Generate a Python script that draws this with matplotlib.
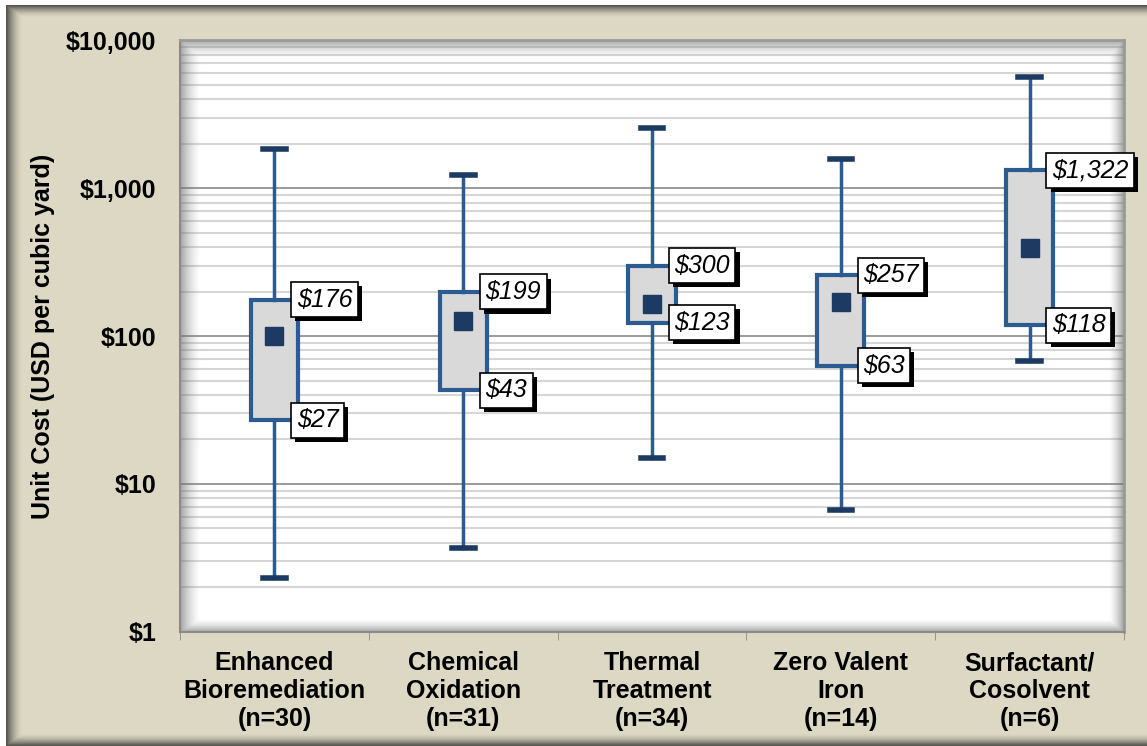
import matplotlib
matplotlib.use("Agg")
import matplotlib.pyplot as plt
import matplotlib.patheffects as pe
from matplotlib.ticker import FixedLocator, LogLocator, NullFormatter
import numpy as np

plt.rcParams['font.family'] = ['Liberation Sans', 'DejaVu Sans']

# values (USD per cubic yard)
categories = ["Enhanced\nBioremediation\n(n=30)", "Chemical\nOxidation\n(n=31)",
              "Thermal\nTreatment\n(n=34)", "Zero Valent\nIron\n(n=14)",
              "Surfactant/\nCosolvent\n(n=6)"]
lowValues = [2.3, 3.7, 15, 6.7, 68]
q1Values = [27, 43, 123, 63, 118]
meanValues = [100, 126, 164, 170, 393]
q3Values = [176, 199, 300, 257, 1322]
highValues = [1835, 1224, 2544, 1570, 5620]
yTicks = [1, 10, 100, 1000, 10000]
yTickLabels = ["$1", "$10", "$100", "$1,000", "$10,000"]

beige = np.array([221, 216, 195]) / 255
boxBlue = "#2c5b91"
navy = "#1d3a62"

W, H = 1147, 746
fig = plt.figure(figsize=(W / 100, H / 100), dpi=100, facecolor="white")

# background panel with shaded left, top and bottom edges
bg = fig.add_axes([0, 0, 1, 1], zorder=-5)
bg.axis("off")
px = np.arange(W)[None, :]
py = np.arange(H)[:, None]
dark = np.array([0.33, 0.33, 0.30])
shade = np.maximum.reduce([
    np.clip(1 - (px - 6) / 16, 0, 1) ** 1.6 * np.ones_like(py),
    np.clip(1 - (py - 5) / 12, 0, 1) ** 1.6 * np.ones_like(px),
    np.clip(1 - (H - 1 - py) / 12, 0, 1) ** 1.6 * np.ones_like(px),
])
panel = beige[None, None, :] * (1 - shade[..., None]) + dark[None, None, :] * shade[..., None]
outside = (px < 6) | (py < 5)
panel[np.broadcast_to(outside, (H, W))] = 1.0
bg.imshow(panel, extent=[0, 1, 0, 1], aspect="auto", interpolation="nearest")
bg.set_xlim(0, 1)
bg.set_ylim(0, 1)

ax = fig.add_axes([0.157, 0.153, 0.823, 0.793])
ax.set_facecolor("white")

stats = []
for i in range(len(categories)):
    stats.append(dict(whislo=lowValues[i], q1=q1Values[i], med=meanValues[i],
                      mean=meanValues[i], q3=q3Values[i], whishi=highValues[i], fliers=[]))

positions = np.arange(len(categories))
ax.bxp(stats, positions=positions, widths=0.25, capwidths=0.12, patch_artist=True,
       showmeans=True, showfliers=False,
       boxprops=dict(facecolor="#d9d9d9", edgecolor=boxBlue, linewidth=3),
       whiskerprops=dict(color=boxBlue, linewidth=2.5),
       capprops=dict(color=navy, linewidth=4),
       medianprops=dict(linewidth=0),
       meanprops=dict(marker="s", markerfacecolor=navy, markeredgecolor=navy, markersize=13),
       zorder=3)

shadow = [pe.SimplePatchShadow(offset=(3, -3), shadow_rgbFace="black", alpha=1), pe.Normal()]
for i, x in enumerate(positions):
    for v in (q3Values[i], q1Values[i]):
        t = ax.text(x + 0.118, v, f"${v:,}", ha="left", va="center", fontsize=18,
                    style="italic", zorder=5,
                    bbox=dict(boxstyle="square,pad=0.22", facecolor="white",
                              edgecolor="black", linewidth=1.2))
        t.get_bbox_patch().set_path_effects(shadow)

ax.set_yscale("log")
ax.set_ylim(1, 10000)
ax.set_xlim(-0.5, len(categories) - 0.5)
ax.yaxis.set_major_locator(FixedLocator(yTicks))
ax.set_yticklabels(yTickLabels, fontsize=18, fontweight="bold")
ax.yaxis.set_minor_locator(LogLocator(base=10, subs=np.arange(2, 10)))
ax.yaxis.set_minor_formatter(NullFormatter())
ax.grid(True, which="major", axis="y", color="#8a8a8a", linewidth=1.2, zorder=0)
ax.grid(True, which="minor", axis="y", color="#d6d6d6", linewidth=1.5, zorder=0)
ax.set_axisbelow(True)

ax.set_xticks(positions)
ax.set_xticklabels(categories, fontsize=18, fontweight="bold", linespacing=1.2)
ax.set_xticks(np.arange(-0.5, len(categories)), minor=True)
ax.tick_params(axis="x", which="major", length=0, pad=14)
ax.tick_params(axis="x", which="minor", length=6, color="#8a8a8a")
ax.tick_params(axis="y", which="both", length=0, pad=17)
ax.set_ylabel("Unit Cost (USD per cubic yard)", fontsize=18, fontweight="bold")
ax.yaxis.set_label_coords(-0.133, 0.5)

for side in ("top", "right"):
    ax.spines[side].set_color("#9a9a9a")
    ax.spines[side].set_linewidth(2)
for side in ("left", "bottom"):
    ax.spines[side].set_color("#8a8a8a")
    ax.spines[side].set_linewidth(1.5)

# soft inner shadow round the plot area
n = 400
u = np.linspace(0, 1, n)
xx, yy = np.meshgrid(u, u)
w = 0.03
d = np.minimum.reduce([xx / (w * 0.7), (1 - xx) / (w * 0.5), yy / (w * 0.7), (1 - yy) / w])
alpha = np.clip(1 - d, 0, 1) ** 1.5 * 0.6
img = np.zeros((n, n, 4))
img[..., :3] = 0.45
img[..., 3] = alpha
ax.imshow(img, extent=[0, 1, 0, 1], transform=ax.transAxes, origin="lower",
          aspect="auto", zorder=1, interpolation="bilinear")
ax.set_xlim(-0.5, len(categories) - 0.5)
ax.set_ylim(1, 10000)

fig.savefig("out.png", dpi=100)
